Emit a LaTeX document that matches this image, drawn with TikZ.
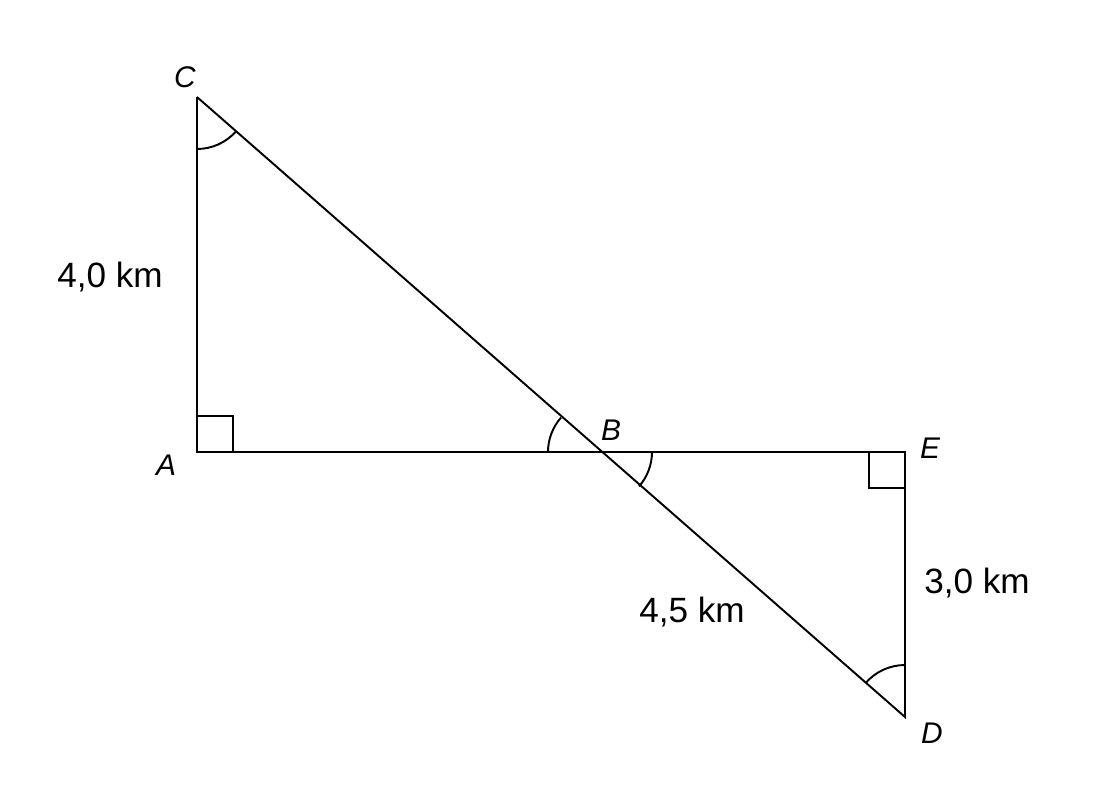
\documentclass[tikz,border=0pt]{standalone}
\usepackage{fontspec}
\setmainfont{Liberation Sans}
\usetikzlibrary{angles}

\begin{document}
\begin{tikzpicture}[x=0.02cm, y=-0.02cm,
    side/.style={line width=1.1pt, black},
    anglemark/.style={line width=1.1pt, black},
    vlabel/.style={font=\fontsize{17}{20}\selectfont\itshape, inner sep=0pt},
    dlabel/.style={font=\fontsize{20}{24}\selectfont, inner sep=0pt}
]
    \useasboundingbox (0,0) rectangle (1110,795);
    \coordinate (C) at (197,97);
    \coordinate (A) at (197,452);
    \coordinate (B) at (600,452);
    \coordinate (E) at (905,452);
    \coordinate (D) at (905,717);
    \draw[side] (C) -- (A) -- (E) -- (D) -- (C);
    % angle marks
    \pic[draw, anglemark, angle radius=1.04cm] {angle = A--C--B};
    \pic[draw, anglemark, angle radius=1.04cm] {angle = E--D--B};
    \draw[anglemark] ([shift={(180:52)}]B) arc[start angle=180, end angle=221.4, radius=52];
    \draw[anglemark] ([shift={(0:52)}]B) arc[start angle=0, end angle=41.4, radius=52];
    \draw[anglemark] (A) ++(0,-36) -| ++(36,36);
    \draw[anglemark] (E) ++(-36,0) |- ++(36,36);
    % labels
    \node[vlabel] (lC) at (185,77) {C};
    \node[vlabel] (lA) at (166,465) {A};
    \node[vlabel] (lB) at (611,430) {B};
    \node[vlabel] (lE) at (930,448) {E};
    \node[vlabel] (lD) at (932,733) {D};
    \node[dlabel] (ca) at (110,277) {4,0 km};
    \node[dlabel] (ed) at (977,583) {3,0 km};
    \node[dlabel] (bd) at (692,612) {4,5 km};
\end{tikzpicture}
\end{document}
